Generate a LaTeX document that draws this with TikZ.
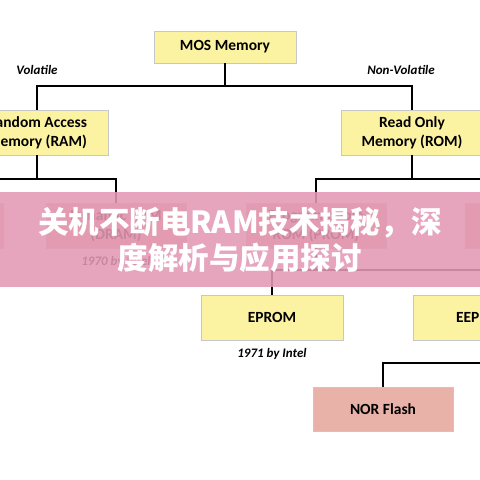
\documentclass[tikz,border=0pt]{standalone}
\usepackage{fontspec}
\setmainfont{Carlito}
\newfontfamily\cjk{Noto Sans CJK SC}
\usetikzlibrary{positioning,shadows}
\definecolor{boxyellow}{RGB}{252,243,162}
\definecolor{boxsalmon}{RGB}{233,178,168}
\definecolor{bannerpink}{RGB}{227,152,180}

\begin{document}
\begin{tikzpicture}[x=1pt,y=1pt,box/.style={draw=black!22,fill=boxyellow,align=center,font=\fontsize{15.5}{19}\selectfont\bfseries,minimum width=142pt,minimum height=45pt,inner sep=2pt,drop shadow={opacity=0.25,shadow xshift=1pt,shadow yshift=-1.5pt}},flashbox/.style={box,fill=boxsalmon},tag/.style={font=\fontsize{13}{15}\selectfont\bfseries\itshape},link/.style={line width=1.4pt}]
\useasboundingbox (0,0) rectangle (480,480);
\node[box,minimum height=32pt](mos) at (225,433){MOS Memory};
\node[box](ram) at (37,347.5){Random Access\\Memory (RAM)};
\node[box](rom) at (412,347.5){Read Only\\Memory (ROM)};
\node[tag] (vol) at (37,410){Volatile};
\node[tag] (nonvol) at (401,410){Non-Volatile};
\node[flashbox,minimum width=140pt](sram) at (-67,254.5){};
\node[flashbox,minimum width=140pt](dram) at (116,254.5){Dynamic RAM\\(DRAM)};
\node[tag,below=5pt of dram](dramyear){1970 by Intel};
\node[flashbox,minimum width=140pt](prom) at (316,254.5){Programmable\\ROM (PROM)};
\node[flashbox,minimum width=140pt](mrom) at (535,254.5){};
\node[box](eprom) at (272,162.5){EPROM};
\node[tag,below=5pt of eprom](epromyear){1971 by Intel};
\node[box](eeprom) at (484,162.5){EEPROM};
\node[flashbox,minimum width=140pt,minimum height=44pt](nor) at (383,71){NOR Flash};
\node[flashbox,minimum width=140pt,minimum height=44pt](nand) at (550,71){};
\draw[link](mos.south)--++(0,-23)-|(ram.north);\draw[link](mos.south)--++(0,-23)-|(rom.north);
\draw[link](ram.south)--++(0,-24)-|(sram.north);\draw[link](ram.south)--++(0,-24)-|(dram.north);
\draw[link](rom.south)--++(0,-24)-|(prom.north);\draw[link](rom.south)--++(0,-24)-|(mrom.north);
\draw[link](prom.south)--++(0,-22)-|(eprom.north);\draw[link](prom.south)--++(0,-22)-|(eeprom.north);
\draw[link](eeprom.south)--++(0,-23)-|(nor.north);\draw[link](eeprom.south)--++(0,-23)-|(nand.north);
% banner over the middle
\fill[bannerpink,opacity=0.88](0,193) rectangle (480,288);
\node[font=\cjk\bfseries\fontsize{30.5}{36}\selectfont,text=white,align=center](title) at (240,240){关机不断电RAM技术揭秘，深\\度解析与应用探讨};
\end{tikzpicture}
\end{document}
